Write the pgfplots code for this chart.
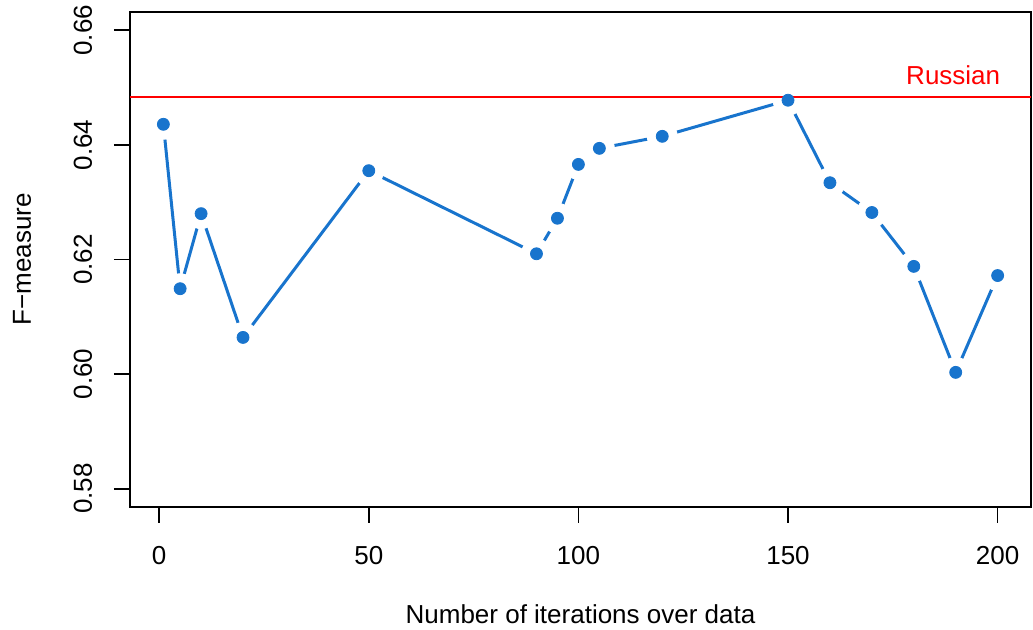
\documentclass[border=0pt]{standalone}
\usepackage{fontspec}
\setmainfont{Liberation Sans}
\usepackage{pgfplots}
\pgfplotsset{compat=1.18}
\newlength\px \setlength\px{0.5pt}
\definecolor{rblue}{RGB}{24,116,205}
\definecolor{rred}{RGB}{255,0,0}
\pgfplotstableread{
x y
1 0.6436
5 0.6149
10 0.6280
20 0.6064
50 0.6355
90 0.6210
95 0.6272
100 0.6366
105 0.6394
120 0.6415
150 0.6478
160 0.6334
170 0.6282
180 0.6188
190 0.6003
200 0.6172
}\fdata
\pgfplotstableread{
x y
-6.96 0.6483
207.96 0.6483
}\refline
\begin{document}
\fontsize{13pt}{15.6pt}\selectfont
\begin{tikzpicture}
\useasboundingbox (0,0) rectangle (1033\px,630\px);
\begin{axis}[
  clip mode=individual,
  at={(130\px,123\px)}, anchor=south west,
  scale only axis, width=901\px, height=495\px,
  xmin=-6.96, xmax=207.96, ymin=0.5768, ymax=0.6632,
  xtick={0,50,100,150,200}, ytick={0.58,0.60,0.62,0.64,0.66},
  xticklabels={0,50,100,150,200}, yticklabels={0.58,0.60,0.62,0.64,0.66},
  tick align=outside, tick pos=left,
  major tick length=16\px,
  axis line style={line width=0.85pt},
  every tick/.style={black, line width=0.85pt},
  ticklabel style={font=\fontsize{13pt}{15.6pt}\selectfont},
  xticklabel style={yshift=-21pt, anchor=base},
  yticklabel style={xshift=-11pt, rotate=90, anchor=base},
  xlabel={Number of iterations over data},
  ylabel={F−measure},
  xlabel style={at={(axis description cs:0.5,-0.2162)}, anchor=center},
  ylabel style={at={(axis description cs:-0.1199,0.5)}, anchor=center},
  label style={font=\fontsize{13pt}{15.6pt}\selectfont},
]
\addplot[draw=rblue, line width=1.5pt, mark=none] table[x=x,y=y]{\fdata};
\addplot[draw=white, fill=white, only marks, mark=*, mark size=15\px, mark options={draw=white, fill=white}] table[x=x,y=y]{\fdata};
\addplot[rred, line width=1pt, mark=none, solid] table[x=x,y=y]{\refline};
\addplot[draw=rblue, fill=rblue, only marks, mark=*, mark size=6\px, mark options={draw=rblue, fill=rblue}] table[x=x,y=y]{\fdata};
\node[rred, anchor=base east, inner sep=0pt, font=\fontsize{13pt}{15.6pt}\selectfont] at (axis cs:200.7,0.6506) {Russian};
\end{axis}
\end{tikzpicture}
\end{document}
